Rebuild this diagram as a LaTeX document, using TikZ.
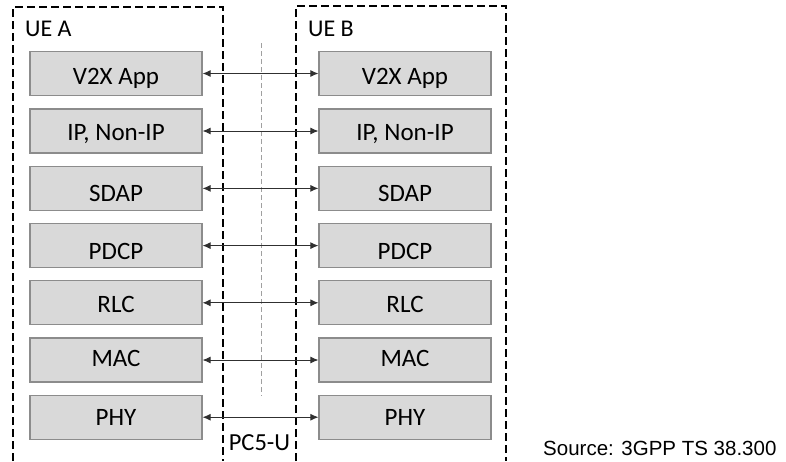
\documentclass[tikz,border=0pt]{standalone}
\usepackage{fontspec}
\setmainfont{Carlito}
\newfontfamily\arialfont{Liberation Sans}
\usetikzlibrary{arrows.meta}
\definecolor{boxfill}{HTML}{D9D9D9}
\definecolor{boxline}{HTML}{8C8C8C}
\definecolor{midline}{HTML}{A0A0A0}
\definecolor{arrowcol}{HTML}{303030}
\tikzset{
  layer/.style={draw=boxline, fill=boxfill, line width=1.2pt, minimum width=172pt, minimum height=44pt, inner sep=0pt, text height=0pt, text depth=0pt, font=\fontsize{25}{29}\selectfont, text=black},
  frame/.style={draw=black, line width=1.2pt, dash pattern=on 8pt off 4pt},
  peer/.style={draw=arrowcol, line width=0.9pt, {Latex[length=8pt,width=7pt]}-{Latex[length=8pt,width=7pt]}},
  uelabel/.style={anchor=base west, inner sep=0pt, font=\fontsize{24}{28}\selectfont},
}
\begin{document}
\begin{tikzpicture}[x=1pt, y=-1pt]
\useasboundingbox (0,0) rectangle (786,461);
% UE frames
\draw[frame] (13,461) -- (13,7) -- (223,7) -- (223,461);
\draw[frame] (296,461) -- (296,6) -- (506,6) -- (506,461);
% centre line
\draw[draw=midline, line width=0.9pt, dash pattern=on 5pt off 3pt] (261.5,43) -- (261.5,396);
\node[uelabel] (uea) at (25,36) {UE A};
\node[uelabel] (ueb) at (308,36) {UE B};
% layers
\foreach \name/\txt/\y/\off in {app/V2X App/73.5/11, ip/{IP, Non-IP}/131/9, sdap/SDAP/188.4/13, pdcp/PDCP/245.6/14, rlc/RLC/302.8/10, mac/MAC/360/6, phy/PHY/417.2/8}{
  \node[layer] (a\name) at (116,\y) {\raisebox{-\off pt}{\txt}};
  \node[layer] (b\name) at (405,\y) {\raisebox{-\off pt}{\txt}};
  \draw[peer] (a\name) -- (b\name);
}
\node[anchor=base, inner sep=0pt, font=\fontsize{24.5}{28}\selectfont] (pc5) at (259.5,450) {PC5-U};
\node[anchor=base west, inner sep=0pt, font=\arialfont\fontsize{20.5}{24}\selectfont] (src) at (543,455) {Source: 3GPP TS 38.300};
\end{tikzpicture}
\end{document}
